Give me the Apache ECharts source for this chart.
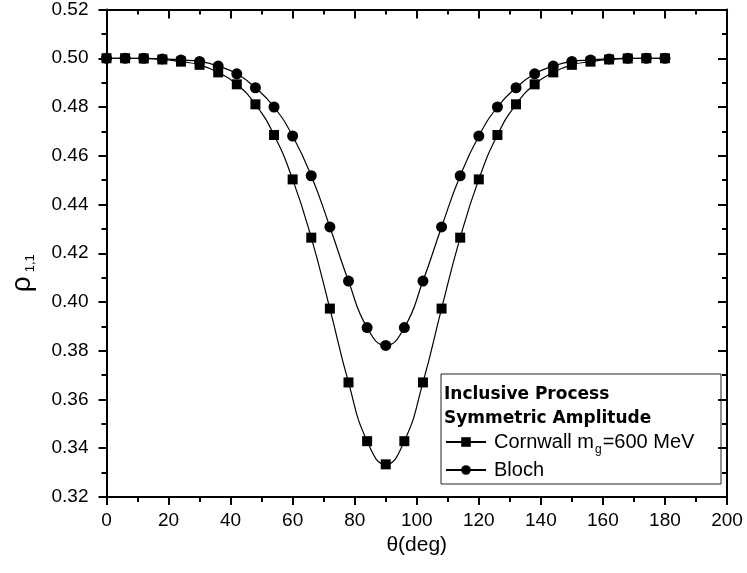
<!DOCTYPE html>
<html><head><meta charset="utf-8">
<script src="https://cdn.jsdelivr.net/npm/echarts@6/dist/echarts.min.js"></script>
<style>html,body{margin:0;padding:0;background:#fff}#c{width:747px;height:573px}</style>
</head><body><div id="c"></div>
<script>
var angles = [0,6,12,18,24,30,36,42,48,54,60,66,72,78,84,90,96,102,108,114,120,126,132,138,144,150,156,162,168,174,180];
var cornwall = [0.5000,0.5000,0.4999,0.4995,0.4986,0.4973,0.4942,0.4893,0.4811,0.4685,0.4503,0.4264,0.3973,0.3670,0.3429,0.3334,
                0.3429,0.3670,0.3973,0.4264,0.4503,0.4685,0.4811,0.4893,0.4942,0.4973,0.4986,0.4995,0.4999,0.5000,0.5000];
var bloch = [0.5000,0.5000,0.5000,0.4997,0.4993,0.4987,0.4968,0.4936,0.4879,0.4800,0.4681,0.4518,0.4308,0.4086,0.3895,0.3822,
             0.3895,0.4086,0.4308,0.4518,0.4681,0.4800,0.4879,0.4936,0.4968,0.4987,0.4993,0.4997,0.5000,0.5000,0.5000];
var xTicks = [0,20,40,60,80,100,120,140,160,180,200];
var yTicks = [0.32,0.34,0.36,0.38,0.40,0.42,0.44,0.46,0.48,0.50,0.52];
var seriesNames = ['Cornwall', 'Bloch'];
var headerLines = ['Inclusive Process', 'Symmetric Amplitude'];

var FONT = '"Liberation Sans", Arial, sans-serif';
function pairs(xs, ys){ return xs.map(function(x,i){ return [x, ys[i]]; }); }

var chart = echarts.init(document.getElementById('c'), null, {renderer:'canvas'});
var axisCommon = {
  axisLine:{show:true, onZero:false, lineStyle:{color:'#000', width:2}},
  splitLine:{show:false}
};
chart.setOption({
  animation:false,
  backgroundColor:'#fff',
  grid:{left:103, right:20, top:8, bottom:76, containLabel:false},
  title:{
    text: headerLines.join('\n'),
    left: 444, top: 383,
    padding: 0,
    textStyle:{fontFamily:'"DejaVu Sans", sans-serif', fontWeight:'bold', fontSize:17, lineHeight:24, color:'#000'}
  },
  graphic:[{type:'rect', shape:{x:441, y:374, width:280, height:110}, style:{fill:'none', stroke:'#222', lineWidth:1}, z:0}],
  legend:{
    orient:'vertical', left:445, top:432, itemGap:4, itemWidth:40, itemHeight:12,
    padding:0,
    data: seriesNames,
    textStyle:{fontFamily:FONT, fontSize:20, color:'#000', padding:[0,0,0,3],
      rich:{n:{fontFamily:FONT, fontSize:20, color:'#000'}, s:{fontFamily:FONT, fontSize:12, color:'#000', padding:[16,1,0,1]}}},
    formatter:function(name){
      if(name === 'Cornwall') return '{n|Cornwall m}{s|g}{n|=600 MeV}';
      return '{n|' + name + '}';
    }
  },
  xAxis:[
    Object.assign({type:'value', position:'bottom', min:xTicks[0], max:xTicks[xTicks.length-1], interval:20,
      name:'θ(deg)', nameLocation:'middle', nameGap:38,
      nameTextStyle:{fontFamily:FONT, fontSize:21, color:'#000'},
      axisTick:{show:true, inside:false, length:8, lineStyle:{color:'#000', width:2}},
      minorTick:{show:true, splitNumber:2, length:5, lineStyle:{color:'#000', width:2}},
      axisLabel:{fontFamily:FONT, fontSize:19, color:'#000', margin:14}}, axisCommon),
    Object.assign({type:'value', position:'top', min:xTicks[0], max:xTicks[xTicks.length-1], interval:20,
      axisTick:{show:true, inside:true, length:9, lineStyle:{color:'#000', width:2}},
      minorTick:{show:true, splitNumber:2, length:5, lineStyle:{color:'#000', width:2}},
      axisLabel:{show:false}}, axisCommon)
  ],
  yAxis:[
    Object.assign({type:'value', position:'left', min:yTicks[0], max:yTicks[yTicks.length-1], interval:0.02,
      name:'{r|ρ}{s|1,1}', nameLocation:'middle', nameGap:70, nameRotate:90,
      nameTextStyle:{fontFamily:FONT, color:'#000', padding:[0,40,0,0],
        rich:{r:{fontFamily:FONT, fontSize:28, color:'#000'}, s:{fontFamily:FONT, fontSize:13, color:'#000', padding:[16,0,0,4]}}},
      axisTick:{show:true, inside:false, length:8, lineStyle:{color:'#000', width:2}},
      minorTick:{show:true, splitNumber:2, length:5, lineStyle:{color:'#000', width:2}},
      axisLabel:{fontFamily:FONT, fontSize:19, color:'#000', margin:18, formatter:function(v){return v.toFixed(2);}}}, axisCommon),
    Object.assign({type:'value', position:'right', min:yTicks[0], max:yTicks[yTicks.length-1], interval:0.02,
      axisTick:{show:true, inside:true, length:9, lineStyle:{color:'#000', width:2}},
      minorTick:{show:true, splitNumber:2, length:5, lineStyle:{color:'#000', width:2}},
      axisLabel:{show:false}}, axisCommon)
  ],
  series:[
    {name:'Cornwall', type:'line', xAxisIndex:0, yAxisIndex:0, data:pairs(angles, cornwall),
     smooth:0.5, symbol:'rect', symbolSize:10, clip:false,
     lineStyle:{color:'#000', width:1.2}, itemStyle:{color:'#000'}, z:3},
    {name:'Bloch', type:'line', xAxisIndex:0, yAxisIndex:0, data:pairs(angles, bloch),
     smooth:0.5, symbol:'circle', symbolSize:11, clip:false,
     lineStyle:{color:'#000', width:1.2}, itemStyle:{color:'#000'}, z:4}
  ]
});
</script></body></html>
